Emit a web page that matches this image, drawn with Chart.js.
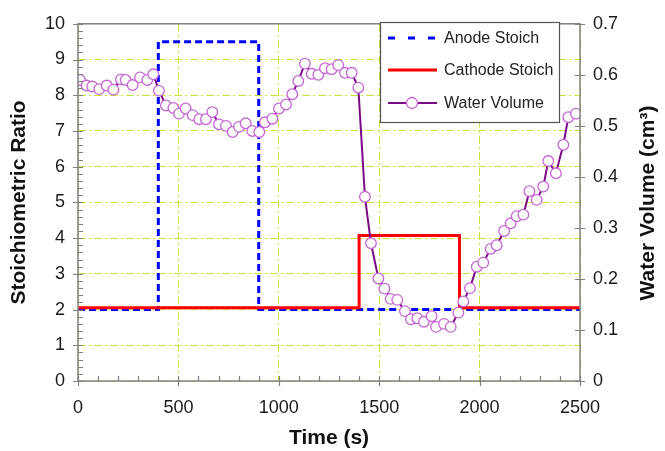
<!DOCTYPE html>
<html>
<head>
<meta charset="utf-8">
<title>Stoich</title>
<script src="https://cdn.jsdelivr.net/npm/chart.js@4.4.0/dist/chart.umd.min.js"></script>
<style>
  html, body { margin: 0; padding: 0; background: #fff; }
  #wrap { position: relative; width: 665px; height: 451px; }
</style>
</head>
<body>
<div id="wrap"><canvas id="grafico" width="665" height="451"></canvas></div>
<script>
// --- DADOS ---
const anodeTempo = [0, 400, 900, 2500];
const anodeStoich = [2.0, 9.5, 2.0, 2.0];

const catodoTempo = [0, 1400, 1900, 2500];
const catodoStoich = [2.05, 4.07, 2.05, 2.05];

// volume de agua (eixo da direita, cm3)
const aguaTempo = [10, 43, 71, 106, 143, 176, 214, 237, 272, 309, 345, 375,
  403, 438, 475, 503, 536, 571, 604, 637, 669, 702,
  737, 770, 802, 835, 868, 903, 931, 968, 1001, 1036,
  1067, 1097, 1130, 1164, 1197, 1230, 1263, 1296, 1330, 1363,
  1396, 1429, 1459, 1496, 1526, 1557, 1590, 1628, 1658, 1690,
  1723, 1761, 1783, 1823, 1856, 1894, 1919, 1952, 1986, 2018,
  2055, 2085, 2122, 2155, 2185, 2218, 2248, 2284, 2317, 2342,
  2380, 2417, 2442, 2480, 2500];
const aguaVolume = [0.590, 0.579, 0.577, 0.572, 0.579, 0.571, 0.591, 0.590, 0.580, 0.595, 0.590, 0.601,
  0.569, 0.540, 0.535, 0.524, 0.534, 0.521, 0.513, 0.513, 0.527, 0.503,
  0.500, 0.488, 0.498, 0.505, 0.490, 0.488, 0.507, 0.514, 0.534, 0.542,
  0.562, 0.588, 0.622, 0.602, 0.600, 0.613, 0.611, 0.619, 0.604, 0.604,
  0.575, 0.361, 0.270, 0.201, 0.181, 0.161, 0.159, 0.137, 0.121, 0.123,
  0.116, 0.127, 0.106, 0.112, 0.106, 0.134, 0.156, 0.182, 0.224, 0.232,
  0.259, 0.266, 0.294, 0.309, 0.323, 0.326, 0.372, 0.355, 0.381, 0.431,
  0.407, 0.463, 0.517, 0.524, 0.530];

// ticks dos eixos
const ticksTempo = [0, 500, 1000, 1500, 2000, 2500];
const ticksRazao = [0, 1, 2, 3, 4, 5, 6, 7, 8, 9, 10];
const ticksVolume = [0, 0.1, 0.2, 0.3, 0.4, 0.5, 0.6, 0.7];
const rotulosVolume = ['0', '0.1', '0.2', '0.3', '0.4', '0.5', '0.6', '0.7'];

const legendaTextos = ['Anode Stoich', 'Cathode Stoich', 'Water Volume'];

// --- CORES ---
const corGrade = '#c8e43c';
const corEixo = '#808080';
const fonte = '"Liberation Sans", Arial, sans-serif';

function pares(xs, ys) {
  return xs.map((x, i) => ({ x: x, y: ys[i] }));
}

// desenha moldura, ticks menores, titulos e a legenda
const moldura = {
  id: 'moldura',
  afterDraw(chart) {
    const ctx = chart.ctx;
    const a = chart.chartArea;
    const sx = chart.scales.x, sy = chart.scales.y, sy1 = chart.scales.y1;
    ctx.save();
    ctx.strokeStyle = corEixo;
    ctx.lineWidth = 1.5;
    ctx.setLineDash([]);
    ctx.strokeRect(a.left, a.top, a.right - a.left, a.bottom - a.top);

    ctx.lineWidth = 1.2;
    ctx.beginPath();
    // eixo x: maiores cruzando, menores para dentro
    for (let t = 0; t <= 2500; t += 100) {
      const px = Math.round(sx.getPixelForValue(t)) + 0.5;
      if (t % 500 === 0) { ctx.moveTo(px, a.bottom - 5); ctx.lineTo(px, a.bottom + 5); }
      else { ctx.moveTo(px, a.bottom); ctx.lineTo(px, a.bottom - 5); }
    }
    // eixo esquerdo
    for (let k = 0; k <= 50; k++) {
      const py = Math.round(sy.getPixelForValue(k / 5)) + 0.5;
      if (k % 5 === 0) { ctx.moveTo(a.left - 5, py); ctx.lineTo(a.left + 5, py); }
      else { ctx.moveTo(a.left, py); ctx.lineTo(a.left + 5, py); }
    }
    // eixo direito
    ticksVolume.forEach(v => {
      const py = Math.round(sy1.getPixelForValue(v)) + 0.5;
      ctx.moveTo(a.right - 5, py); ctx.lineTo(a.right + 5, py);
    });
    ctx.stroke();

    // titulos
    ctx.fillStyle = '#111';
    ctx.font = 'bold 21px ' + fonte;
    ctx.textAlign = 'center';
    ctx.textBaseline = 'middle';
    ctx.fillText('Time (s)', (a.left + a.right) / 2, 438);
    ctx.save();
    ctx.translate(19, (a.top + a.bottom) / 2);
    ctx.rotate(-Math.PI / 2);
    ctx.fillText('Stoichiometric Ratio', 0, 0);
    ctx.restore();
    ctx.save();
    ctx.translate(648, 203);
    ctx.rotate(-Math.PI / 2);
    ctx.fillText('Water Volume (cm\u00B3)', 0, 0);
    ctx.restore();

    // legenda
    const lx = 380, ly = 22, lw = 179, lh = 100;
    ctx.fillStyle = '#fff';
    ctx.fillRect(lx, ly, lw, lh);
    ctx.strokeStyle = '#555';
    ctx.lineWidth = 1.2;
    ctx.strokeRect(lx + 0.5, ly + 0.5, lw, lh);
    const linhas = [38, 70, 103];
    const ds = chart.data.datasets;
    ctx.font = '16px ' + fonte;
    ctx.textAlign = 'left';
    linhas.forEach((yy, i) => {
      const d = ds[i];
      ctx.strokeStyle = d.borderColor;
      ctx.lineWidth = d.borderWidth;
      ctx.setLineDash(i === 0 ? [7, 13] : []);
      ctx.beginPath();
      ctx.moveTo(388, yy); ctx.lineTo(437, yy);
      ctx.stroke();
      ctx.setLineDash([]);
      if (i === 2) {
        ctx.beginPath();
        ctx.arc(412, yy, 5.5, 0, Math.PI * 2);
        ctx.fillStyle = '#fff';
        ctx.fill();
        ctx.strokeStyle = d.pointBorderColor;
        ctx.lineWidth = d.pointBorderWidth;
        ctx.stroke();
      }
      ctx.fillStyle = '#222';
      ctx.fillText(legendaTextos[i], 444, yy + 1);
    });
    ctx.restore();
  }
};

const ultimo = aguaTempo.length - 1;

new Chart(document.getElementById('grafico'), {
  type: 'line',
  data: {
    datasets: [
      {
        label: legendaTextos[0],
        data: pares(anodeTempo, anodeStoich),
        yAxisID: 'y',
        borderColor: '#0000ff',
        borderWidth: 3,
        borderDash: [7, 4],
        stepped: true,
        pointRadius: 0,
        order: 2
      },
      {
        label: legendaTextos[1],
        data: pares(catodoTempo, catodoStoich),
        yAxisID: 'y',
        borderColor: '#ff0000',
        borderWidth: 3,
        stepped: true,
        pointRadius: 0,
        order: 1
      },
      {
        label: legendaTextos[2],
        data: pares(aguaTempo, aguaVolume),
        yAxisID: 'y1',
        borderColor: '#7b0a87',
        borderWidth: 2,
        tension: 0,
        pointRadius: c => (c.dataIndex === ultimo ? 0 : 5.3),
        pointBackgroundColor: '#fff',
        pointBorderColor: '#c566d4',
        pointBorderWidth: 1.3,
        order: 0
      }
    ]
  },
  options: {
    responsive: false,
    animation: false,
    devicePixelRatio: 1,
    layout: { padding: { top: 18, left: 0, right: 0, bottom: 0 } },
    plugins: { legend: { display: false }, tooltip: { enabled: false } },
    scales: {
      x: {
        type: 'linear', min: 0, max: 2500,
        afterBuildTicks: s => { s.ticks = ticksTempo.map(v => ({ value: v })); },
        afterFit: s => { s.height = 70; },
        grid: { color: corGrade, lineWidth: 1, drawTicks: false },
        border: { display: false, dash: [8, 3, 2, 3] },
        ticks: { padding: 16, color: '#1a1a1a', font: { family: fonte, size: 18 }, maxRotation: 0,
          callback: v => String(v) }
      },
      y: {
        type: 'linear', position: 'left', min: 0, max: 10,
        afterBuildTicks: s => { s.ticks = ticksRazao.map(v => ({ value: v })); },
        afterFit: s => { s.width = 78; },
        grid: { color: corGrade, lineWidth: 1, drawTicks: false },
        border: { display: false, dash: [8, 3, 2, 3] },
        ticks: { padding: 13, color: '#1a1a1a', font: { family: fonte, size: 18 },
          callback: v => String(v) }
      },
      y1: {
        type: 'linear', position: 'right', min: 0, max: 0.7,
        afterBuildTicks: s => { s.ticks = ticksVolume.map(v => ({ value: v })); },
        afterFit: s => { s.width = 85; },
        grid: { drawOnChartArea: false, drawTicks: false },
        border: { display: false },
        ticks: { padding: 13, color: '#1a1a1a', font: { family: fonte, size: 18 },
          callback: (v, i) => rotulosVolume[i] }
      }
    }
  },
  plugins: [moldura]
});
</script>
</body>
</html>
